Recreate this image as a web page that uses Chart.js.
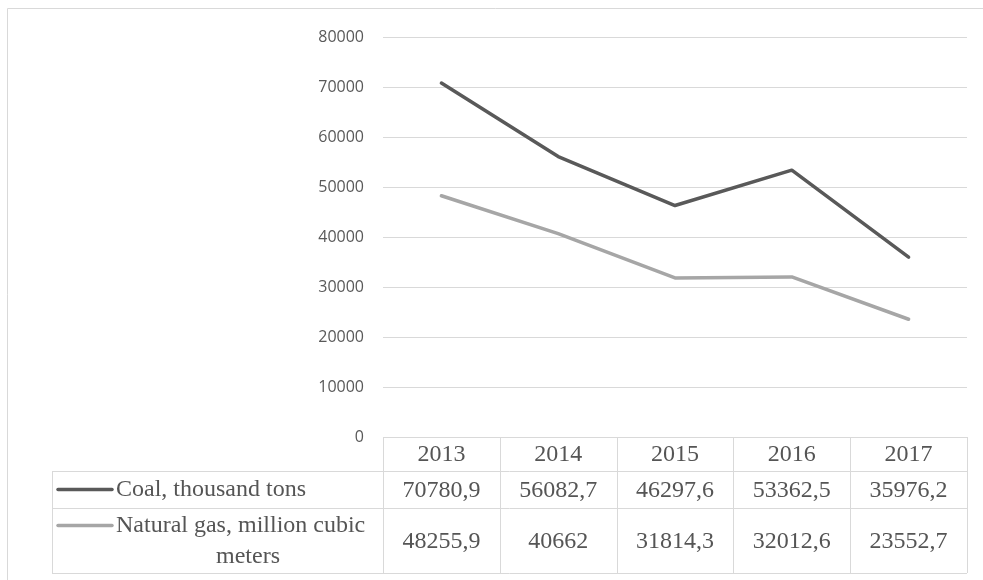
<!DOCTYPE html>
<html>
<head>
<meta charset="utf-8">
<script src="https://cdn.jsdelivr.net/npm/chart.js@4"></script>
<style>
  html, body { margin: 0; padding: 0; background: #fff; }
  #wrap { width: 983px; height: 580px; position: relative; }
</style>
</head>
<body>
<div id="wrap"><canvas id="chart"></canvas></div>
<script>
// years and the two series
const years = ["2013", "2014", "2015", "2016", "2017"];
const coal = [70780.9, 56082.7, 46297.6, 53362.5, 35976.2];
const gas = [48255.9, 40662, 31814.3, 32012.6, 23552.7];
// the table prints them with a decimal comma
const coalText = ["70780,9", "56082,7", "46297,6", "53362,5", "35976,2"];
const gasText = ["48255,9", "40662", "31814,3", "32012,6", "23552,7"];
const yMax = 80000;
const yStep = 10000;

const gridColor = "#d9d9d9";
const textColor = "#595959";
const serif = "'Liberation Serif', 'Times New Roman', serif";

// draws the Excel-style data table below the plot, plus the outer frame
const dataTablePlugin = {
  id: "dataTable",
  afterDraw(chart) {
    const ctx = chart.ctx;
    const x = chart.scales.x;
    const area = chart.chartArea;
    const colW = (area.right - area.left) / years.length;
    const tableLeft = 52;
    const top = area.bottom;
    const row1 = 471, row2 = 508, bottom = 573;

    ctx.save();
    ctx.strokeStyle = gridColor;
    ctx.lineWidth = 1;

    // outer chart frame (only left and top edges are inside the picture)
    ctx.beginPath();
    ctx.moveTo(7.5, 600);
    ctx.lineTo(7.5, 8.5);
    ctx.lineTo(1000, 8.5);
    ctx.stroke();

    ctx.beginPath();
    // header row top, only over the year columns
    ctx.moveTo(area.left, top + 0.5);
    ctx.lineTo(area.right, top + 0.5);
    [row1, row2, bottom].forEach((y) => {
      ctx.moveTo(tableLeft, y + 0.5);
      ctx.lineTo(area.right, y + 0.5);
    });
    ctx.moveTo(tableLeft + 0.5, row1);
    ctx.lineTo(tableLeft + 0.5, bottom);
    for (let i = 0; i <= years.length; i++) {
      const cx = Math.round(area.left + colW * i) + 0.5;
      ctx.moveTo(cx, top);
      ctx.lineTo(cx, bottom);
    }
    ctx.stroke();

    ctx.fillStyle = "#555555";
    ctx.font = "24px " + serif;
    ctx.textAlign = "center";
    ctx.textBaseline = "middle";
    years.forEach((yr, i) => {
      const cx = x.getPixelForValue(i);
      ctx.fillText(yr, cx, (top + row1) / 2 + 1);
      ctx.fillText(coalText[i], cx, (row1 + row2) / 2 + 1);
      ctx.fillText(gasText[i], cx, (row2 + bottom) / 2 + 1);
    });

    // legend keys
    ctx.lineCap = "round";
    ctx.lineWidth = 3.5;
    ctx.strokeStyle = chart.data.datasets[0].borderColor;
    ctx.beginPath();
    ctx.moveTo(58, 489.5);
    ctx.lineTo(112, 489.5);
    ctx.stroke();
    ctx.strokeStyle = chart.data.datasets[1].borderColor;
    ctx.beginPath();
    ctx.moveTo(58, 525.5);
    ctx.lineTo(112, 525.5);
    ctx.stroke();

    ctx.textAlign = "left";
    ctx.fillText(chart.data.datasets[0].label, 116, 490);
    ctx.fillText("Natural gas, million cubic", 116, 526);
    ctx.textAlign = "center";
    ctx.fillText("meters", 248, 557);
    ctx.restore();
  },
};

new Chart(document.getElementById("chart"), {
  type: "line",
  data: {
    labels: years,
    datasets: [
      {
        label: "Coal, thousand tons",
        data: coal,
        borderColor: "#595959",
        borderWidth: 3.5,
        pointRadius: 0,
        borderJoinStyle: "round",
        borderCapStyle: "round",
      },
      {
        label: "Natural gas, million cubic meters",
        data: gas,
        borderColor: "#a6a6a6",
        borderWidth: 3.5,
        pointRadius: 0,
        borderJoinStyle: "round",
        borderCapStyle: "round",
      },
    ],
  },
  options: {
    responsive: true,
    maintainAspectRatio: false,
    animation: false,
    layout: { padding: { left: 0, top: 37, right: 16, bottom: 143 } },
    plugins: {
      legend: { display: false },
      tooltip: { enabled: false },
    },
    scales: {
      x: { display: false, offset: true },
      y: {
        min: 0,
        max: yMax,
        afterFit: (scale) => { scale.width = 383; },
        border: { display: false },
        grid: {
          color: (c) => (c.tick && c.tick.value === 0 ? "rgba(0,0,0,0)" : gridColor),
          drawTicks: false,
        },
        ticks: {
          stepSize: yStep,
          padding: 19,
          color: textColor,
          font: { family: "'Open Sans', sans-serif", size: 16 },
          callback: (v) => String(v),
        },
      },
    },
  },
  plugins: [dataTablePlugin],
});
</script>
</body>
</html>
